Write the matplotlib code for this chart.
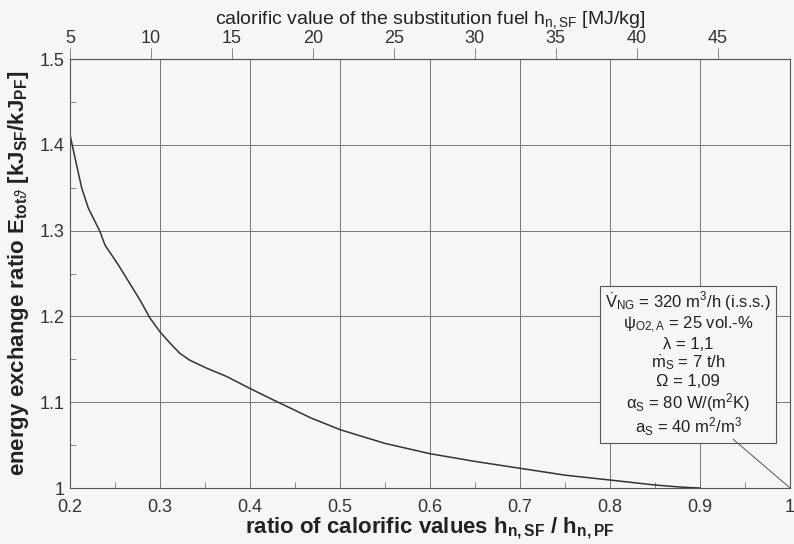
import matplotlib
matplotlib.use("Agg")
import matplotlib.pyplot as plt
from matplotlib.ticker import MultipleLocator, FuncFormatter

plt.rcParams['font.family'] = ['Liberation Sans', 'DejaVu Sans']
plt.rcParams['mathtext.fontset'] = 'custom'
plt.rcParams['mathtext.rm'] = 'Liberation Sans'
plt.rcParams['mathtext.it'] = 'Liberation Sans:italic'
plt.rcParams['mathtext.bf'] = 'Liberation Sans:bold'

# curve
ratio = [0.2, 0.2056, 0.213, 0.2204, 0.2333, 0.2389, 0.2537, 0.2778, 0.2889,
         0.3, 0.311, 0.322, 0.333, 0.352, 0.374, 0.4, 0.426, 0.467, 0.5,
         0.55, 0.6, 0.65, 0.7, 0.75, 0.8, 0.85, 0.88, 0.9]
energy = [1.4116, 1.3844, 1.3495, 1.326, 1.2989, 1.283, 1.260, 1.219, 1.198,
          1.182, 1.169, 1.157, 1.149, 1.1396, 1.130, 1.116, 1.1026, 1.082,
          1.068, 1.052, 1.040, 1.031, 1.023, 1.015, 1.0093, 1.0035, 1.001, 1.0]

x_ticks = [0.2, 0.3, 0.4, 0.5, 0.6, 0.7, 0.8, 0.9, 1.0]
y_ticks = [1.0, 1.1, 1.2, 1.3, 1.4, 1.5]
top_ticks = [5, 10, 15, 20, 25, 30, 35, 40, 45]

h_at_02 = 5.0
h_slope = 55.6

box_lines = [
    r'$\dot{\mathrm{V}}_{\mathrm{NG}}$ = 320 m$^{3}$/h (i.s.s.)',
    r'ψ$_{\mathrm{O2,A}}$ = 25 vol.-%',
    'λ = 1,1',
    r'$\dot{\mathrm{m}}_{\mathrm{S}}$ = 7 t/h',
    'Ω = 1,09',
    r'α$_{\mathrm{S}}$ = 80 W/(m$^{2}$K)',
    r'a$_{\mathrm{S}}$ = 40 m$^{2}$/m$^{3}$',
]

fig = plt.figure(figsize=(7.94, 5.44), dpi=100, facecolor='#f6f6f6')
ax = fig.add_axes([0.0882, 0.1029, 0.9068, 0.7886])
ax.set_facecolor('#f6f6f6')

ax.plot(ratio, energy, color='#333333', lw=1.1)

ax.set_xlim(0.2, 1.0)
ax.set_ylim(1.0, 1.5)
ax.set_xticks(x_ticks)
ax.set_yticks(y_ticks)
ax.xaxis.set_minor_locator(MultipleLocator(0.05))
ax.yaxis.set_minor_locator(MultipleLocator(0.05))
fmt = FuncFormatter(lambda v, p: f"{v:g}")
ax.xaxis.set_major_formatter(fmt)
ax.yaxis.set_major_formatter(fmt)
ax.tick_params(which='major', length=0, labelsize=13, colors='#333333')
ax.tick_params(axis='x', which='major', pad=8)
ax.tick_params(axis='y', which='major', pad=4)
ax.tick_params(which='minor', direction='in', length=4, width=0.6, color='#777777')
ax.grid(True, which='major', color='#777777', lw=0.7)
for s in ax.spines.values():
    s.set_color('#555555')
    s.set_linewidth(0.8)

ax.set_xlabel(r'ratio of calorific values h$_{\mathbf{n,SF}}$ / h$_{\mathbf{n,PF}}$',
              fontsize=16, fontweight='bold', color='#222222', labelpad=-1)
ax.set_ylabel(r'energy exchange ratio E$_{\mathbf{tot}\vartheta}$ [kJ$_{\mathbf{SF}}$/kJ$_{\mathbf{PF}}$]',
              fontsize=16, fontweight='bold', color='#222222', labelpad=6)

top = ax.secondary_xaxis('top', functions=(lambda r: h_at_02 + (r - 0.2) * h_slope,
                                           lambda h: 0.2 + (h - h_at_02) / h_slope))
top.set_xticks(top_ticks)
top.tick_params(direction='out', length=8, width=0.6, color='#777777',
                labelsize=13, labelcolor='#333333', pad=1)
top.spines['top'].set_color('#555555')
top.set_xlabel(r'calorific value of the substitution fuel h$_{\mathrm{n,SF}}$ [MJ/kg]',
               fontsize=14, color='#222222', labelpad=4)

ax.text(0.8867, 1.144, "\n".join(box_lines), ha='center', va='center',
        fontsize=12, color='#222222', linespacing=1.12,
        bbox=dict(boxstyle='square,pad=0.3', fc='#f6f6f6', ec='#555555', lw=0.8))
ax.annotate('', xy=(1.0, 1.0), xytext=(0.9367, 1.057),
            arrowprops=dict(arrowstyle='-', color='#555555', lw=0.7,
                            shrinkA=0, shrinkB=0))

fig.savefig('out.png', dpi=100, facecolor=fig.get_facecolor())
